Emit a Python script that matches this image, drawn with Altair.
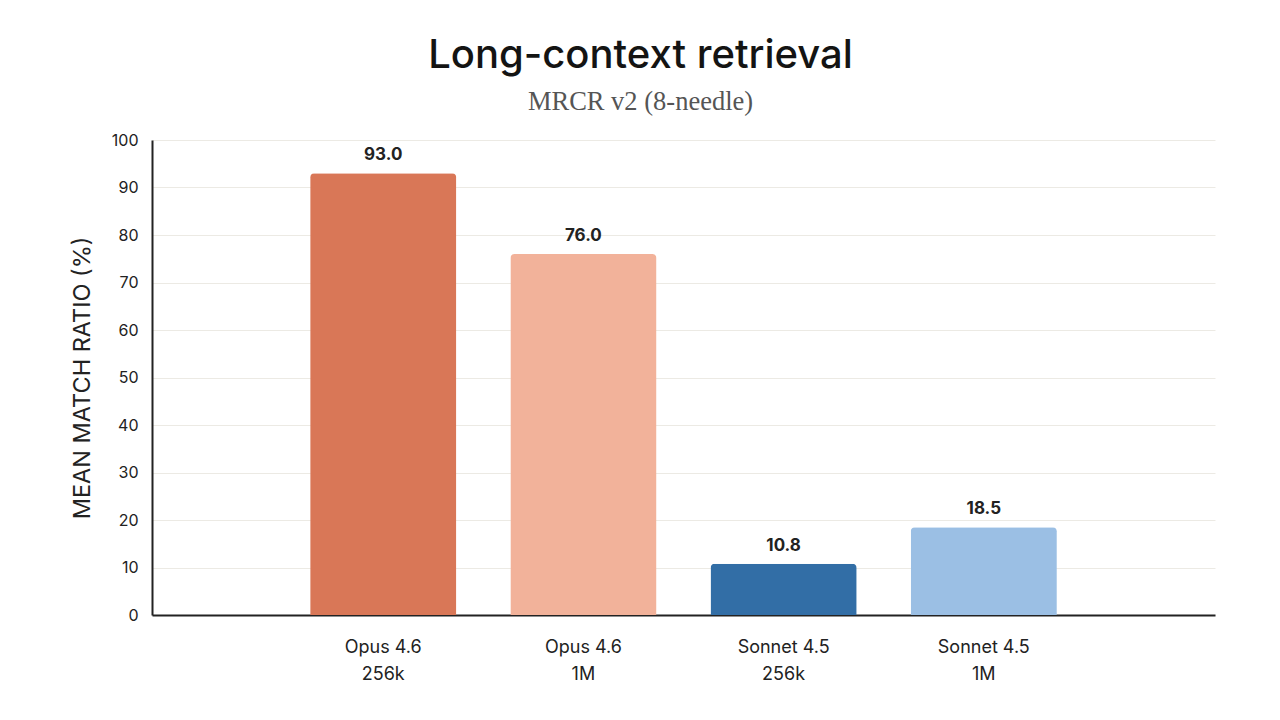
import altair as alt
import pandas as pd

models = ["Opus 4.6|256k", "Opus 4.6|1M", "Sonnet 4.5|256k", "Sonnet 4.5|1M"]
values = [93.0, 76.0, 10.8, 18.5]
colors = ["#D97757", "#F2B29A", "#326EA6", "#9BBFE4"]

df = pd.DataFrame({"model": models, "value": values, "color": colors})
df["label"] = df["value"].map(lambda v: f"{v:.1f}")

FONT = "Inter"

x = alt.X(
    "model:N",
    sort=models,
    scale=alt.Scale(paddingInner=0.27, paddingOuter=0.79),
    axis=alt.Axis(
        title=None,
        labelAngle=0,
        labelExpr="split(datum.label, '|')",
        labelFontSize=18,
        labelLineHeight=27,
        labelPadding=23,
        labelColor="#222222",
        labelFont=FONT,
        ticks=False,
        domainColor="#222222",
        domainWidth=2,
    ),
)

y = alt.Y(
    "value:Q",
    scale=alt.Scale(domain=[0, 100]),
    axis=alt.Axis(
        title="MEAN MATCH RATIO (%)",
        titleFontSize=23.5,
        titleFontWeight="normal",
        titleColor="#222222",
        titleFont=FONT,
        titlePadding=17,
        values=list(range(0, 101, 10)),
        labelFontSize=16,
        labelColor="#222222",
        labelFont=FONT,
        labelPadding=14,
        ticks=False,
        domainColor="#222222",
        domainWidth=2,
        gridColor="#ECEAE4",
        gridWidth=1,
    ),
)

bars = alt.Chart(df).mark_bar(cornerRadiusTopLeft=4, cornerRadiusTopRight=4).encode(
    x=x,
    y=y,
    color=alt.Color("color:N", scale=None),
)

labels = alt.Chart(df).mark_text(
    baseline="bottom", dy=-9, fontSize=17, fontWeight="bold", font=FONT, color="#222222"
).encode(x=alt.X("model:N", sort=models), y="value:Q", text="label:N")

chart = (
    alt.layer(bars, labels)
    .properties(
        width=1063,
        height=475,
        autosize=alt.AutoSizeParams(type="none"),
        padding={"left": 144, "top": 132, "right": 57, "bottom": 97},
        title=alt.TitleParams(
            text="Long-context retrieval",
            subtitle="MRCR v2 (8-needle)",
            anchor="middle",
            dx=-43,
            fontSize=40,
            fontWeight=500,
            font=FONT,
            color="#141413",
            subtitleFont="Liberation Serif",
            subtitleFontSize=26.5,
            subtitleColor="#555555",
            subtitlePadding=13,
            offset=17,
        ),
        background="white",
    )
    .configure_view(stroke=None)
)

chart.save("out.html", embed_options={"renderer": "svg", "actions": False})
